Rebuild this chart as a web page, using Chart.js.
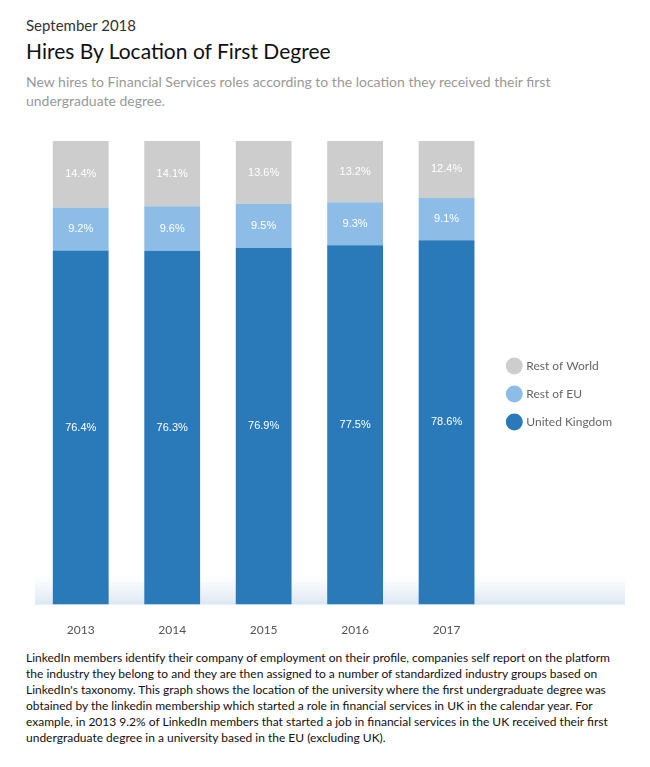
<!DOCTYPE html>
<html><head><meta charset="utf-8">
<script src="https://cdn.jsdelivr.net/npm/chart.js@4"></script>
<style>
body{margin:0;background:#fff;font-family:Lato,"Open Sans",sans-serif;color:#222;}
#date{position:absolute;left:26px;top:16px;font-size:15px;color:#333;}
#title{position:absolute;left:26px;top:38px;font-size:21px;color:#111;}
#sub{position:absolute;left:26px;top:72px;width:560px;font-size:14px;color:#999;line-height:19px;}
#wrap{position:absolute;left:0;top:130px;width:650px;height:517px;}
#note{position:absolute;left:26px;top:650px;width:590px;font-size:12px;line-height:16px;color:#111;}
</style></head><body>
<div id="date">September 2018</div>
<div id="title">Hires By Location of First Degree</div>
<div id="sub">New hires to Financial Services roles according to the location they received their first undergraduate degree.</div>
<div id="wrap"><canvas id="c"></canvas></div>
<div id="note">LinkedIn members identify their company of employment on their profile, companies self report on the platform the industry they belong to and they are then assigned to a number of standardized industry groups based on LinkedIn's taxonomy. This graph shows the location of the university where the first undergraduate degree was obtained by the linkedin membership which started a role in financial services in UK in the calendar year. For example, in 2013 9.2% of LinkedIn members that started a job in financial services in the UK received their first undergraduate degree in a university based in the EU (excluding UK).</div>
<script>
// Données
const years = ['2013', '2014', '2015', '2016', '2017'];
const unitedKingdom = [76.4, 76.3, 76.9, 77.5, 78.6];
const restOfEU = [9.2, 9.6, 9.5, 9.3, 9.1];
const restOfWorld = [14.4, 14.1, 13.6, 13.2, 12.4];

// Étiquettes blanches au centre de chaque segment
const segmentLabels = {
    id: 'segmentLabels',
    afterDatasetsDraw(chart) {
        const ctx = chart.ctx;
        ctx.save();
        ctx.fillStyle = '#fff';
        ctx.font = '11px "Liberation Sans", Arial, sans-serif';
        ctx.textAlign = 'center';
        ctx.textBaseline = 'middle';
        chart.data.datasets.forEach((ds, i) => {
            chart.getDatasetMeta(i).data.forEach((bar, j) => {
                const y = (bar.y + bar.base) / 2;
                ctx.fillText(ds.data[j].toFixed(1) + '%', bar.x, y);
            });
        });
        ctx.restore();
    }
};

// Ombre dégradée au pied des barres
const floorShade = {
    id: 'floorShade',
    beforeDatasetsDraw(chart) {
        const a = chart.chartArea, ctx = chart.ctx;
        const g = ctx.createLinearGradient(0, a.bottom - 30, 0, a.bottom);
        g.addColorStop(0, 'rgba(225,235,245,0)');
        g.addColorStop(1, 'rgba(210,225,240,0.8)');
        ctx.save();
        ctx.fillStyle = g;
        ctx.fillRect(a.left, a.bottom - 30, 590, 30);
        ctx.restore();
    }
};

new Chart(document.getElementById('c'), {
    type: 'bar',
    data: {
        labels: years,
        datasets: [
            { label: 'United Kingdom', data: unitedKingdom, backgroundColor: '#2a7aba' },
            { label: 'Rest of EU', data: restOfEU, backgroundColor: '#8dbde6' },
            { label: 'Rest of World', data: restOfWorld, backgroundColor: '#cdcdcd' }
        ]
    },
    options: {
        responsive: true,
        maintainAspectRatio: false,
        animation: false,
        layout: { padding: { left: 35, right: 28, top: 11, bottom: 0 } },
        datasets: { bar: { barPercentage: 0.61, categoryPercentage: 1 } },
        scales: {
            x: {
                stacked: true,
                grid: { display: false },
                border: { display: false },
                ticks: { color: '#555', font: { size: 12, family: 'Lato' }, padding: 10 }
            },
            y: { stacked: true, display: false, min: 0, max: 100 }
        },
        plugins: {
            legend: {
                position: 'right',
                reverse: true,
                labels: {
                    usePointStyle: true,
                    pointStyle: 'circle',
                    boxWidth: 13,
                    boxHeight: 13,
                    padding: 16,
                    color: '#666',
                    font: { size: 12, family: 'Lato' }
                }
            },
            tooltip: { enabled: false }
        }
    },
    plugins: [floorShade, segmentLabels]
});
</script>
</body></html>
